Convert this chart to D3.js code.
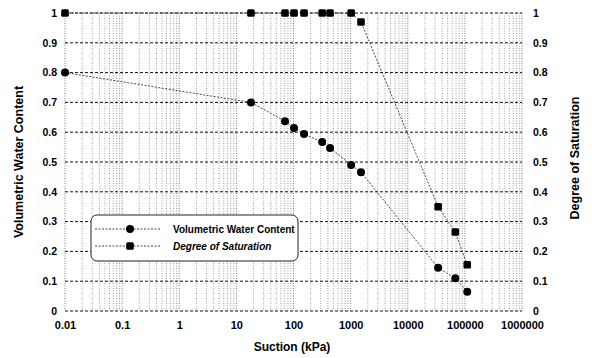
<!DOCTYPE html>
<html>
<head>
<meta charset="utf-8">
<script src="https://cdn.jsdelivr.net/npm/d3@7"></script>
<style>
  body { margin: 0; background: #fff; }
  svg { font-family: "Liberation Sans", Arial, sans-serif; font-weight: bold; }
</style>
</head>
<body>
<svg width="592" height="358"></svg>
<script>
const suction = [0.01, 18, 71, 102, 153, 318, 437, 1020, 1520, 34000, 68000, 110000]
const waterContent = [0.8, 0.70, 0.637, 0.614, 0.594, 0.567, 0.547, 0.49, 0.466, 0.145, 0.11, 0.065]
const saturation = [1, 1, 1, 1, 1, 1, 1, 1, 0.97, 0.35, 0.265, 0.155]
const xTicks = [0.01, 0.1, 1, 10, 100, 1000, 10000, 100000, 1000000]
const yTicks = [0, 0.1, 0.2, 0.3, 0.4, 0.5, 0.6, 0.7, 0.8, 0.9, 1]

const svg = d3.select("svg")
const plotL = 65, plotR = 522, plotT = 13, plotB = 311

const x = d3.scaleLog().domain([0.01, 1000000]).range([plotL, plotR])
const y = d3.scaleLinear().domain([0, 1]).range([plotB, plotT])

// vertical grid at every minor log tick
const minor = []
xTicks.slice(0, -1).forEach(d => { for (let k = 1; k <= 9; k++) minor.push(d * k) })
minor.push(1000000)

svg.append("g")
  .selectAll("line")
  .data(minor)
  .join("line")
  .attr("x1", d => x(d)).attr("x2", d => x(d))
  .attr("y1", plotT).attr("y2", plotB)
  .attr("stroke", d => xTicks.includes(d) ? "#555" : "#888")
  .attr("stroke-width", 0.8)
  .attr("stroke-dasharray", "1,1.5")

// horizontal grid
svg.append("g")
  .selectAll("line")
  .data(yTicks)
  .join("line")
  .attr("x1", plotL).attr("x2", plotR)
  .attr("y1", d => y(d)).attr("y2", d => y(d))
  .attr("stroke", "#111")
  .attr("stroke-width", 1)
  .attr("stroke-dasharray", "3,2")

// axes (labels only)
const fmt = d => d === 0 || d === 1 ? String(d) : d3.format(".1f")(d)
const yl = svg.append("g").attr("transform", `translate(${plotL - 5},0)`)
  .call(d3.axisLeft(y).tickValues(yTicks).tickSize(0).tickFormat(fmt))
const yr = svg.append("g").attr("transform", `translate(${plotR + 8},0)`)
  .call(d3.axisRight(y).tickValues(yTicks).tickSize(0).tickFormat(fmt))
const xa = svg.append("g").attr("transform", `translate(0,${plotB + 7})`)
  .call(d3.axisBottom(x).tickValues(xTicks).tickSize(0).tickFormat(d => String(d)))
;[yl, yr].forEach(g => g.selectAll("text").attr("font-size", 10.5))
xa.selectAll("text").attr("font-size", 11)
;[yl, yr, xa].forEach(g => {
  g.select(".domain").remove()
  g.selectAll("text").attr("font-weight", "bold")
    .attr("font-family", "Liberation Sans, Arial, sans-serif").attr("fill", "#000")
})

// series lines
const line = d3.line().x(d => x(d[0])).y(d => y(d[1]))
const wcPts = suction.map((s, i) => [s, waterContent[i]])
const satPts = suction.map((s, i) => [s, saturation[i]])

svg.append("path").datum(wcPts).attr("d", line)
  .attr("fill", "none").attr("stroke", "#333").attr("stroke-width", 0.9)
  .attr("stroke-dasharray", "2,1.5")
svg.append("path").datum(satPts).attr("d", line)
  .attr("fill", "none").attr("stroke", "#333").attr("stroke-width", 0.9)
  .attr("stroke-dasharray", "2,1.5")

// markers
svg.append("g").selectAll("circle").data(wcPts).join("circle")
  .attr("cx", d => x(d[0])).attr("cy", d => y(d[1])).attr("r", 4)
  .attr("fill", "#000")
svg.append("g").selectAll("rect").data(satPts).join("rect")
  .attr("x", d => x(d[0]) - 3.8).attr("y", d => y(d[1]) - 3.8)
  .attr("width", 7.6).attr("height", 7.6).attr("rx", 1.5)
  .attr("fill", "#000")

// axis titles
svg.append("text").attr("x", 292).attr("y", 351).attr("text-anchor", "middle")
  .attr("font-size", 12).text("Suction (kPa)")
svg.append("text").attr("transform", "translate(23,162) rotate(-90)")
  .attr("text-anchor", "middle").attr("font-size", 12.5).text("Volumetric Water Content")
svg.append("text").attr("transform", "translate(579,158) rotate(-90)")
  .attr("text-anchor", "middle").attr("font-size", 12.5).text("Degree of Saturation")

// legend
const lg = svg.append("g")
lg.append("rect").attr("x", 91).attr("y", 215).attr("width", 207).attr("height", 46)
  .attr("rx", 6).attr("fill", "#fff").attr("stroke", "#222").attr("stroke-width", 1)
const legendRows = [
  { label: "Volumetric Water Content", italic: false, shape: "circle" },
  { label: "Degree of Saturation", italic: true, shape: "square" },
]
legendRows.forEach((r, i) => {
  const cy = 229 + i * 17
  lg.append("line").attr("x1", 95).attr("x2", 160).attr("y1", cy).attr("y2", cy)
    .attr("stroke", "#333").attr("stroke-width", 0.9).attr("stroke-dasharray", "2,1.5")
  if (r.shape === "circle") {
    lg.append("circle").attr("cx", 130).attr("cy", cy).attr("r", 4).attr("fill", "#000")
  } else {
    lg.append("rect").attr("x", 126.2).attr("y", cy - 3.8).attr("width", 7.6).attr("height", 7.6)
      .attr("rx", 1.5).attr("fill", "#000")
  }
  lg.append("text").attr("x", 173).attr("y", cy + 3.5).attr("font-size", 10)
    .attr("font-style", r.italic ? "italic" : "normal").text(r.label)
})
</script>
</body>
</html>
